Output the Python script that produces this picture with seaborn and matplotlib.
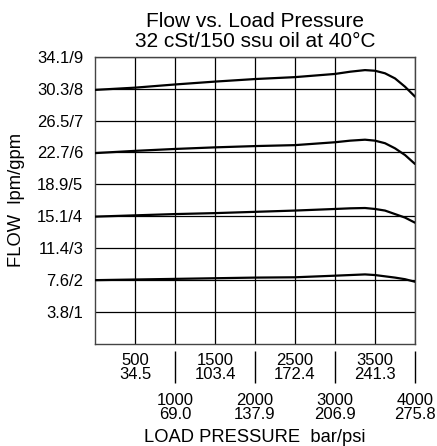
import numpy as np
import pandas as pd
import matplotlib
matplotlib.use("Agg")
import matplotlib.pyplot as plt
import matplotlib.transforms as mtransforms
import seaborn as sns

# ---- data ----
pressure_psi = [0, 500, 1000, 1500, 2000, 2500, 3000, 3190, 3375, 3500, 3625, 3750, 3875, 4000]
flow_8gpm = [7.96, 8.03, 8.13, 8.22, 8.30, 8.36, 8.46, 8.53, 8.58, 8.56, 8.48, 8.32, 8.06, 7.75]
flow_6gpm = [5.98, 6.05, 6.11, 6.16, 6.20, 6.23, 6.32, 6.37, 6.40, 6.37, 6.29, 6.13, 5.92, 5.64]
flow_4gpm = [3.99, 4.03, 4.07, 4.10, 4.14, 4.18, 4.23, 4.25, 4.26, 4.23, 4.18, 4.07, 3.96, 3.80]
flow_2gpm = [2.00, 2.02, 2.04, 2.06, 2.08, 2.09, 2.14, 2.16, 2.18, 2.16, 2.12, 2.08, 2.03, 1.95]

y_ticks = [1, 2, 3, 4, 5, 6, 7, 8, 9]
y_tick_labels = ["3.8/1", "7.6/2", "11.4/3", "15.1/4", "18.9/5",
                 "22.7/6", "26.5/7", "30.3/8", "34.1/9"]
x_major = [500, 1500, 2500, 3500]
x_major_labels = ["500\n34.5", "1500\n103.4", "2500\n172.4", "3500\n241.3"]
x_minor = [1000, 2000, 3000, 4000]
x_minor_labels = ["1000\n69.0", "2000\n137.9", "3000\n206.9", "4000\n275.8"]

title = "Flow vs. Load Pressure\n32 cSt/150 ssu oil at 40\u00b0C"
xlabel = "LOAD PRESSURE  bar/psi"
ylabel = "FLOW  lpm/gpm"

frames = []
for name, vals in [("8", flow_8gpm), ("6", flow_6gpm), ("4", flow_4gpm), ("2", flow_2gpm)]:
    frames.append(pd.DataFrame({"psi": pressure_psi, "gpm": vals, "curve": name}))
df = pd.concat(frames, ignore_index=True)

sns.set_style("white")
plt.rcParams["font.family"] = ["Liberation Sans", "DejaVu Sans"]
plt.rcParams["text.color"] = "black"
plt.rcParams["axes.labelcolor"] = "black"
plt.rcParams["xtick.color"] = "black"
plt.rcParams["ytick.color"] = "black"

fig = plt.figure(figsize=(4.37, 4.46), dpi=100)
ax = fig.add_axes([95 / 437, 1 - 344 / 446, 320 / 437, (344 - 56.7) / 446])

sns.lineplot(data=df, x="psi", y="gpm", hue="curve", units="curve", estimator=None,
             palette=["black"] * 4, linewidth=1.6, legend=False, ax=ax, zorder=3)

ax.set_xlim(0, 4000)
ax.set_ylim(0, 9)

tick_fs = 12
ax.set_yticks(y_ticks)
ax.set_yticklabels(y_tick_labels, fontsize=tick_fs)
ax.set_xticks(x_major)
ax.set_xticklabels(x_major_labels, fontsize=tick_fs, linespacing=0.9)
ax.set_xticks(x_minor, minor=True)
ax.set_xticklabels(x_minor_labels, minor=True, fontsize=tick_fs, linespacing=0.9)

ax.tick_params(axis="y", which="both", length=0, pad=8.5)
ax.tick_params(axis="x", which="major", length=0, pad=6.5)
ax.tick_params(axis="x", which="minor", length=0, pad=35.5)

ax.grid(True, which="both", color="black", linewidth=0.9)
ax.set_axisbelow(True)
for s in ax.spines.values():
    s.set_color("#444444")
    s.set_linewidth(1.0)

# separator tick lines between label rows
trans = mtransforms.blended_transform_factory(ax.transData, ax.transAxes)
ax.vlines(x_minor, -0.0244, -0.1357, transform=trans, colors="black",
          linewidth=1.0, clip_on=False)

ax.set_title(title, fontsize=15, linespacing=1.05, pad=7)
ax.set_xlabel(xlabel, fontsize=13.2)
ax.xaxis.set_label_coords(0.5, (344 - 437) / 287.3)
ax.xaxis.label.set_va("center")
ax.set_ylabel(ylabel, fontsize=13.2)
ax.yaxis.set_label_coords((17 - 95) / 320, 0.5)
ax.yaxis.label.set_va("center")

fig.savefig("out.png", dpi=100)
